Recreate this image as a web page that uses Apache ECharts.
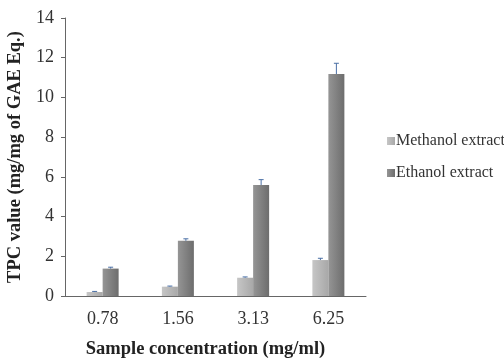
<!DOCTYPE html>
<html>
<head>
<meta charset="utf-8">
<script src="https://cdn.jsdelivr.net/npm/echarts@6/dist/echarts.min.js"></script>
<style>
html, body { margin: 0; padding: 0; background: #fff; }
#chart { width: 504px; height: 358px; }
</style>
</head>
<body>
<div id="chart"></div>
<script>
var categories = ['0.78', '1.56', '3.13', '6.25'];
var methanol = [0.2, 0.47, 0.92, 1.81];
var ethanol = [1.38, 2.78, 5.59, 11.18];
var methanolErr = [0.03, 0.03, 0.04, 0.09];
var ethanolErr = [0.07, 0.1, 0.27, 0.54];

var serif = 'Liberation Serif';
var barW = 16;

function grad(c1, c2) {
    return new echarts.graphic.LinearGradient(0, 0, 1, 0, [
        { offset: 0, color: c1 },
        { offset: 1, color: c2 }
    ]);
}

// error bars only go upwards, as in the original figure
function errorSeries(vals, errs, shift) {
    return {
        type: 'custom',
        silent: true,
        z: 5,
        data: vals.map(function(v, i) { return [i, v, errs[i]]; }),
        renderItem: function(params, api) {
            var base = api.coord([api.value(0), api.value(1)]);
            var top = api.coord([api.value(0), api.value(1) + api.value(2)]);
            var x = base[0] + shift;
            var style = { stroke: '#4a6fa5', lineWidth: 1 };
            return {
                type: 'group',
                children: [
                    { type: 'line', shape: { x1: x, y1: base[1], x2: x, y2: top[1] }, style: style },
                    { type: 'line', shape: { x1: x - 2.5, y1: top[1], x2: x + 2.5, y2: top[1] }, style: style }
                ]
            };
        }
    };
}

var chart = echarts.init(document.getElementById('chart'));
var option = {
    animation: false,
    grid: { left: 65, right: 138, top: 18, bottom: 62, containLabel: false, outerBoundsMode: 'none' },
    legend: {
        orient: 'vertical',
        left: 382,
        top: 128,
        itemWidth: 8,
        itemHeight: 8,
        itemGap: 16,
        icon: 'rect',
        textStyle: { fontFamily: serif, fontSize: 16, color: '#333', padding: [0, 0, 0, -4] },
        data: ['Methanol extract', 'Ethanol extract']
    },
    xAxis: {
        type: 'category',
        data: categories,
        name: 'Sample concentration (mg/ml)',
        nameLocation: 'middle',
        nameGap: 44,
        nameTextStyle: { fontFamily: serif, fontSize: 18.5, fontWeight: 'bold', color: '#222', padding: [0, 20, 0, 0] },
        axisLine: { lineStyle: { color: '#666', width: 1 } },
        axisTick: { show: false },
        axisLabel: { fontFamily: serif, fontSize: 18, color: '#333', margin: 14 }
    },
    yAxis: {
        type: 'value',
        min: 0,
        max: 14,
        interval: 2,
        name: 'TPC value (mg/mg of GAE Eq.)',
        nameLocation: 'middle',
        nameGap: 38,
        nameTextStyle: { fontFamily: serif, fontSize: 18.5, fontWeight: 'bold', color: '#222' },
        axisLine: { show: true, lineStyle: { color: '#666', width: 1 } },
        axisTick: { show: true, length: 4, lineStyle: { color: '#666' } },
        axisLabel: { fontFamily: serif, fontSize: 18, color: '#333', margin: 11 },
        splitLine: { show: false }
    },
    series: [
        {
            name: 'Methanol extract',
            type: 'bar',
            data: methanol,
            barWidth: barW,
            barGap: '0%',
            itemStyle: { color: grad('#c6c6c6', '#a8a8a8') }
        },
        {
            name: 'Ethanol extract',
            type: 'bar',
            data: ethanol,
            barWidth: barW,
            barGap: '0%',
            itemStyle: { color: grad('#959595', '#6d6d6d') }
        },
        errorSeries(methanol, methanolErr, -barW / 2),
        errorSeries(ethanol, ethanolErr, barW / 2)
    ]
};
chart.setOption(option);
</script>
</body>
</html>
